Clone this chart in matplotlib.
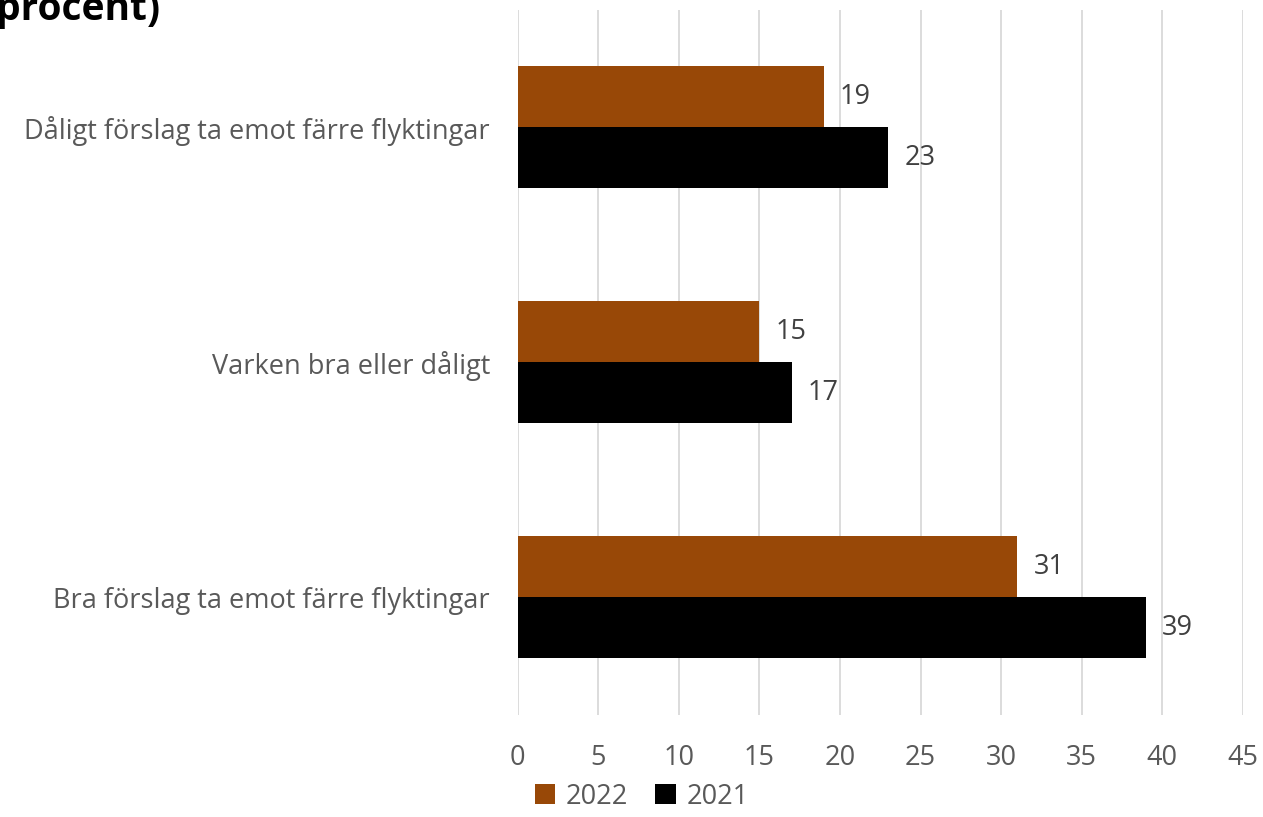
import numpy as np
import matplotlib.pyplot as plt

# data
categories = ['Bra förslag ta emot färre flyktingar', 'Varken bra eller dåligt',
              'Dåligt förslag ta emot färre flyktingar']
values_2022 = [31, 15, 19]
values_2021 = [39, 17, 23]
series_names = ['2022', '2021']
ticks = [0, 5, 10, 15, 20, 25, 30, 35, 40, 45]

plt.rcParams['font.family'] = ['Open Sans', 'DejaVu Sans']

fig = plt.figure(figsize=(12.63, 8.17), dpi=100)
ax = fig.add_axes([0.410, 0.125, 0.574, 0.863])

y = np.arange(len(categories))
h = 0.26
b1 = ax.barh(y + h / 2, values_2022, height=h, color='#984807', label=series_names[0], zorder=3)
b2 = ax.barh(y - h / 2, values_2021, height=h, color='#000000', label=series_names[1], zorder=3)

for bars in (b1, b2):
    for bar in bars:
        w = bar.get_width()
        ax.text(w + 1.0, bar.get_y() + bar.get_height() / 2, f'{w:.0f}',
                va='center', ha='left', fontsize=19.5, color='#404040')

ax.set_xlim(0, 45)
ax.set_ylim(-0.5, 2.5)
ax.set_xticks(ticks)
ax.set_yticks(y)
ax.set_yticklabels(categories)
ax.tick_params(axis='both', length=0, labelsize=19.5, labelcolor='#595959')
ax.tick_params(axis='x', pad=21)
ax.tick_params(axis='y', pad=20)
ax.grid(axis='x', color='#d9d9d9', linewidth=1.3, zorder=0)
for s in ax.spines.values():
    s.set_visible(False)

fig.legend(loc='lower center', bbox_to_anchor=(0.508, -0.022), ncol=2, frameon=False,
           fontsize=19.5, handlelength=0.75, handleheight=0.75, handletextpad=0.4,
           columnspacing=1.0, labelcolor='#595959')

# title, cropped at the top-left edge of the picture as in the source image
fig.text(0.127, 1.012, '(procent)', ha='right', va='top', fontsize=28,
         fontweight='bold', color='#000000')

fig.savefig('out.png', dpi=100)
